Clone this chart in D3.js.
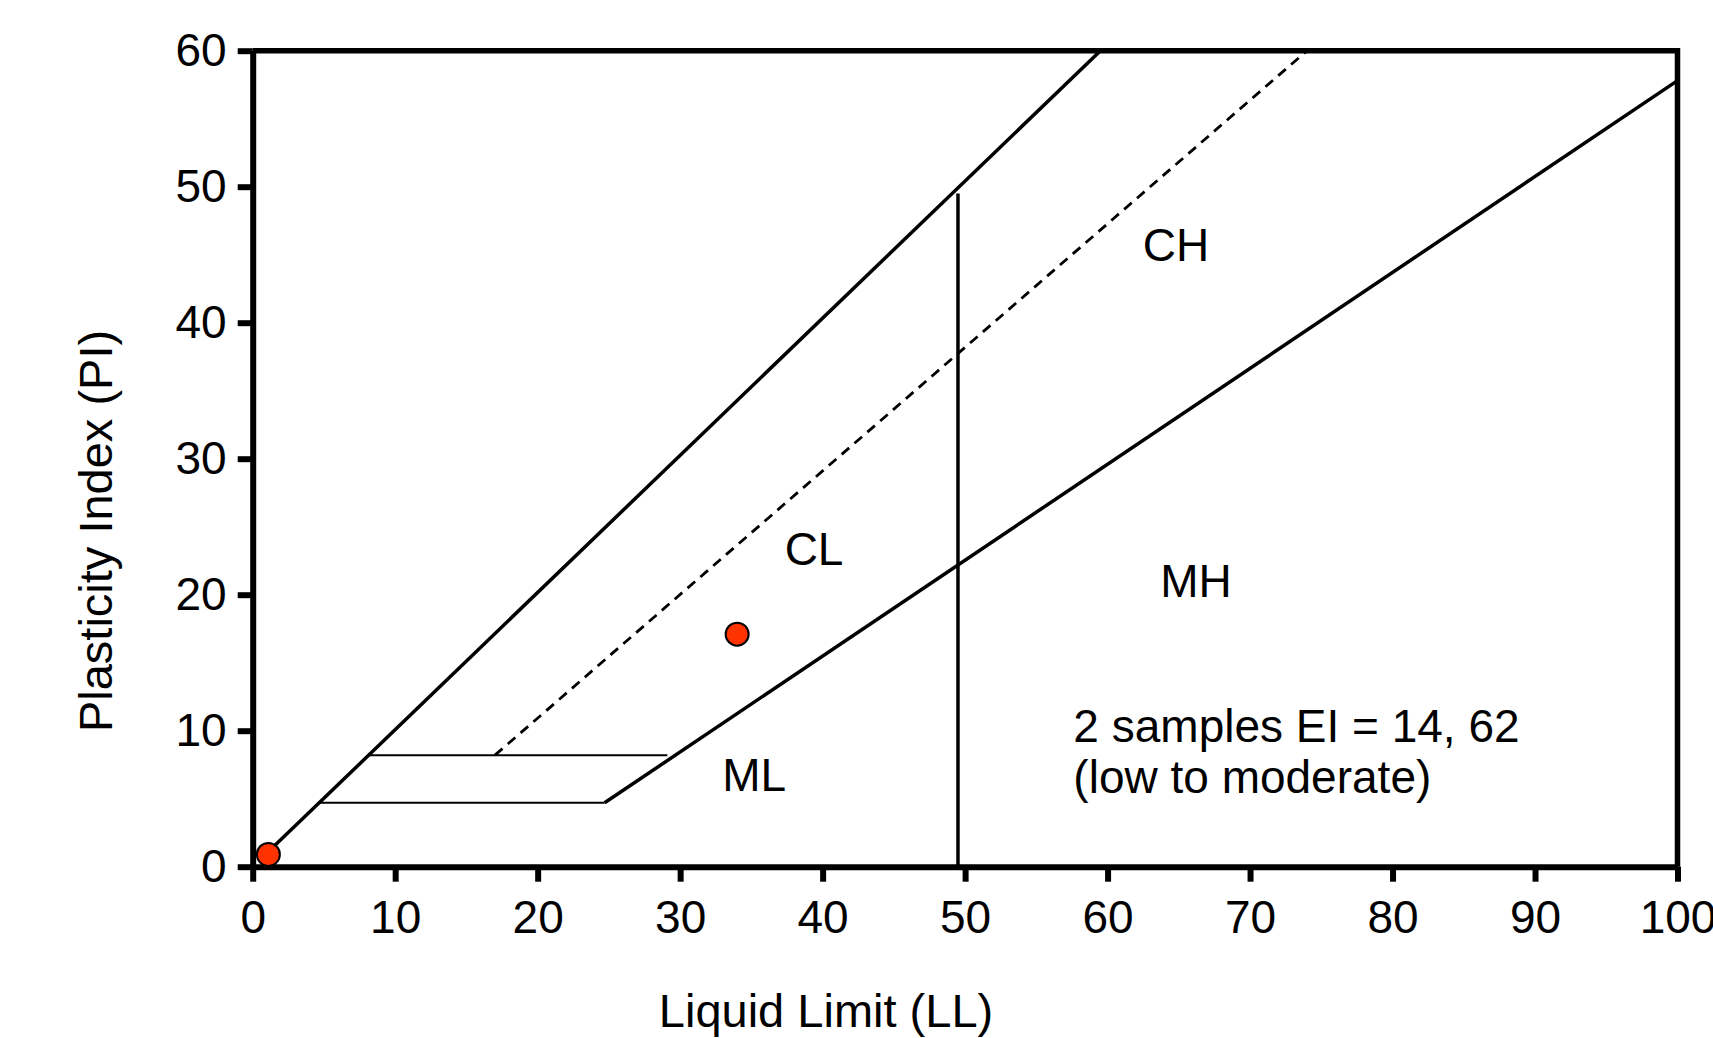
<!DOCTYPE html>
<html>
<head>
<meta charset="utf-8">
<script src="https://cdn.jsdelivr.net/npm/d3@7"></script>
<style>
  body { margin: 0; background: #fff; }
  text { font-family: "Liberation Sans", Arial, Helvetica, sans-serif; }
</style>
</head>
<body>
<div id="chartBox"></div>
<script>
// chart data (LL, PI)
var xTicks = [0, 10, 20, 30, 40, 50, 60, 70, 80, 90, 100];
var yTicks = [0, 10, 20, 30, 40, 50, 60];

var upperLine = [[1, 1], [59.5, 60]];
var dashedLine = [[17, 8.2], [74, 60]];
var lowerLine = [[24.7, 4.7], [100, 57.8]];
var shelfUpper = [[8.2, 8.2], [29.1, 8.2]];
var shelfLower = [[4.7, 4.7], [24.7, 4.7]];
var splitLine = [[49.5, 0], [49.5, 49.5]];

var samples = [[1.1, 0.9], [34, 17.1]];

var zoneNames = ["CL", "CH", "MH", "ML"];
var zoneAt = [[39.4, 22.2], [64.8, 44.5], [66.2, 19.8], [35.2, 5.6]];

var noteLines = ["2 samples EI = 14, 62", "(low to moderate)"];
var noteAt = [57.6, 9.2];

var w = 1713;
var h = 1038;
var margin = { top: 50.7, right: 35.5, bottom: 171.3, left: 252.7 };
var iw = w - margin.left - margin.right;
var ih = h - margin.top - margin.bottom;

var svg = d3.select("#chartBox")
  .append("svg")
  .attr("width", w)
  .attr("height", h);

var x = d3.scaleLinear().domain([0, 100]).range([0, iw]);
var y = d3.scaleLinear().domain([0, 60]).range([ih, 0]);

var main = svg.append("g")
  .attr("transform", "translate(" + margin.left + "," + margin.top + ")");

var line = d3.line()
  .x(function(d) { return x(d[0]); })
  .y(function(d) { return y(d[1]); });

// frame, top and right
main.append("path")
  .attr("d", "M0,0H" + iw + "V" + ih)
  .attr("fill", "none")
  .attr("stroke", "#000")
  .attr("stroke-width", 5.5);

// chart lines
var lines = [
  { d: upperLine, sw: 3.5, dash: null },
  { d: lowerLine, sw: 3.5, dash: null },
  { d: dashedLine, sw: 2.8, dash: "10,7" },
  { d: shelfUpper, sw: 2, dash: null },
  { d: shelfLower, sw: 2, dash: null },
  { d: splitLine, sw: 3.5, dash: null }
];

main.append("g")
  .selectAll("path")
  .data(lines)
  .enter()
  .append("path")
  .attr("d", function(d) { return line(d.d); })
  .attr("fill", "none")
  .attr("stroke", "#000")
  .attr("stroke-width", function(d) { return d.sw; })
  .attr("stroke-dasharray", function(d) { return d.dash; });

// axes
var xAxis = main.append("g")
  .attr("transform", "translate(0," + ih + ")")
  .call(d3.axisBottom(x).tickValues(xTicks).tickSize(15).tickSizeOuter(0).tickPadding(19));

var yAxis = main.append("g")
  .call(d3.axisLeft(y).tickValues(yTicks).tickSize(15).tickSizeOuter(0).tickPadding(11));

[xAxis, yAxis].forEach(function(a) {
  a.select(".domain").attr("stroke-width", 6);
  a.selectAll(".tick line").attr("stroke-width", 6);
  a.selectAll(".tick text")
    .attr("font-size", 46)
    .attr("fill", "#000")
    .style("font-family", "'Liberation Sans', Arial, sans-serif");
});

// zone labels
main.append("g")
  .selectAll("text")
  .data(zoneNames)
  .enter()
  .append("text")
  .attr("x", function(d, i) { return x(zoneAt[i][0]); })
  .attr("y", function(d, i) { return y(zoneAt[i][1]); })
  .attr("text-anchor", "middle")
  .attr("font-size", 46)
  .text(function(d) { return d; });

// note
main.append("g")
  .selectAll("text")
  .data(noteLines)
  .enter()
  .append("text")
  .attr("x", x(noteAt[0]))
  .attr("y", function(d, i) { return y(noteAt[1]) + i * 51; })
  .attr("font-size", 46)
  .text(function(d) { return d; });

// sample points
main.append("g")
  .selectAll("circle")
  .data(samples)
  .enter()
  .append("circle")
  .attr("cx", function(d) { return x(d[0]); })
  .attr("cy", function(d) { return y(d[1]); })
  .attr("r", 11.5)
  .attr("fill", "#ff3300")
  .attr("stroke", "#000")
  .attr("stroke-width", 2);

// axis titles
svg.append("text")
  .attr("x", 826)
  .attr("y", 1027)
  .attr("text-anchor", "middle")
  .attr("font-size", 47)
  .text("Liquid Limit (LL)");

svg.append("text")
  .attr("transform", "translate(112,531) rotate(-90)")
  .attr("text-anchor", "middle")
  .attr("font-size", 47)
  .text("Plasticity Index (PI)");
</script>
</body>
</html>
